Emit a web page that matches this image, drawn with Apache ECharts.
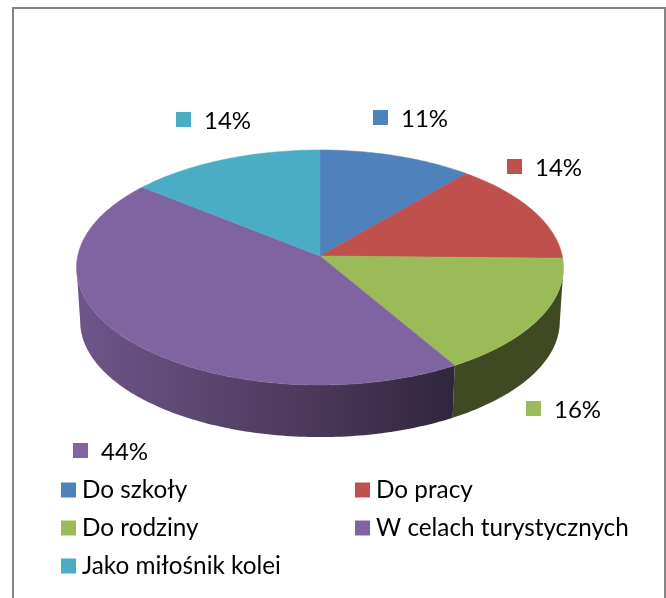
<!DOCTYPE html>
<html>
<head>
<meta charset="utf-8">
<style>
  html, body { margin: 0; padding: 0; background: #fff; }
  #chart { width: 666px; height: 598px; }
</style>
</head>
<body>
<div id="chart"></div>
<script src="https://cdn.jsdelivr.net/npm/echarts@6/dist/echarts.min.js"></script>
<script>
const categories = ['Do szkoły', 'Do pracy', 'Do rodziny', 'W celach turystycznych', 'Jako miłośnik kolei']
const shares = [11.2, 14.1, 16.2, 44.3, 14.2]

const colors = ['#4F81BD', '#C0504D', '#9BBB59', '#8064A2', '#4BACC6']
const FONT = 'Lato, sans-serif'

// flattened pie in perspective
const pie = { cx: 320, cy: 256, rx: 242.3, ry: 116.4, k: 0.0979, depth: 54, shrink: 0.985 }

// top left corner of the small square next to each percentage
const labelSpots = [[373, 110], [507, 159], [526, 401], [73, 443], [176, 112]]

const total = shares.reduce((a, b) => a + b, 0)
let running = 0
const ranges = shares.map(s => {
  const r = [running / total, (running + s) / total]
  running += s
  return r
})

const topPoint = (share) => {
  const a = share * Math.PI * 2
  const u = Math.sin(a)
  const v = -Math.cos(a)
  const s = 1 / (1 - pie.k * v)
  return [pie.cx + pie.rx * u * s, pie.cy + pie.ry * v * s]
}

const lowPoint = (share) => {
  const p = topPoint(share)
  return [
    pie.cx + (p[0] - pie.cx) * pie.shrink,
    pie.cy + (p[1] - pie.cy) * pie.shrink + pie.depth
  ]
}

const arc = (from, to, fn) => {
  const steps = Math.max(2, Math.ceil((to - from) * 360))
  const pts = []
  for (let i = 0; i <= steps; i++) pts.push(fn(from + (to - from) * i / steps))
  return pts
}

// the wall is only seen between the two points where the rim turns back
const tangent = Math.acos(pie.k) / (Math.PI * 2)
const wallStart = 0.25 + (0.25 - tangent)
const wallEnd = 1 - wallStart

const wallFill = [
  '#2A415E',
  '#602826',
  '#404A22',
  new echarts.graphic.LinearGradient(78, 0, 455, 0, [
    { offset: 0, color: '#6E5689' },
    { offset: 0.64, color: '#4A3759' },
    { offset: 1, color: '#30253F' }
  ], true),
  '#255663'
]

const renderSlice = (idx) => (params, api) => {
  const from = api.value(0)
  const to = api.value(1)
  const spot = labelSpots[idx]
  return {
    type: 'group',
    children: [
      {
        type: 'polygon',
        shape: { points: [[pie.cx, pie.cy]].concat(arc(from, to, topPoint)) },
        style: { fill: colors[idx], stroke: colors[idx], lineWidth: 0.5 }
      },
      {
        type: 'rect',
        shape: { x: spot[0], y: spot[1], width: 15, height: 15 },
        style: { fill: colors[idx] }
      },
      {
        type: 'text',
        style: {
          x: spot[0] + 28,
          y: spot[1] + 9,
          text: Math.round(shares[idx]) + '%',
          fill: '#000',
          font: '24px ' + FONT,
          textVerticalAlign: 'middle'
        }
      }
    ]
  }
}

const renderWall = (params, api) => {
  const from = Math.max(api.value(0), wallStart)
  const to = Math.min(api.value(1), wallEnd)
  if (to <= from) return null
  return {
    type: 'polygon',
    shape: { points: arc(from, to, topPoint).concat(arc(from, to, lowPoint).reverse()) },
    style: { fill: wallFill[params.dataIndex] }
  }
}

const legendBase = {
  orient: 'vertical',
  top: 478,
  padding: 0,
  icon: 'rect',
  itemWidth: 15,
  itemHeight: 15,
  itemGap: 14,
  selectedMode: false,
  textStyle: { fontFamily: FONT, fontSize: 24.3, color: '#000', padding: [0, 0, 0, 1] }
}

const chart = echarts.init(document.getElementById('chart'))

chart.setOption({
  animation: false,
  color: colors,
  graphic: [{
    type: 'rect',
    silent: true,
    shape: { x: 13, y: 8, width: 652, height: 610 },
    style: { fill: 'none', stroke: '#868686', lineWidth: 2 }
  }],
  legend: [
    { ...legendBase, left: 61, data: [categories[0], categories[2], categories[4]] },
    { ...legendBase, left: 355, data: [categories[1], categories[3]] }
  ],
  series: [
    {
      type: 'custom',
      name: 'walls',
      coordinateSystem: 'none',
      z: 2,
      silent: true,
      renderItem: renderWall,
      data: ranges
    }
  ].concat(categories.map((name, i) => ({
    type: 'custom',
    name,
    coordinateSystem: 'none',
    z: 3,
    itemStyle: { color: colors[i] },
    renderItem: renderSlice(i),
    data: [ranges[i]]
  })))
})
</script>
</body>
</html>
